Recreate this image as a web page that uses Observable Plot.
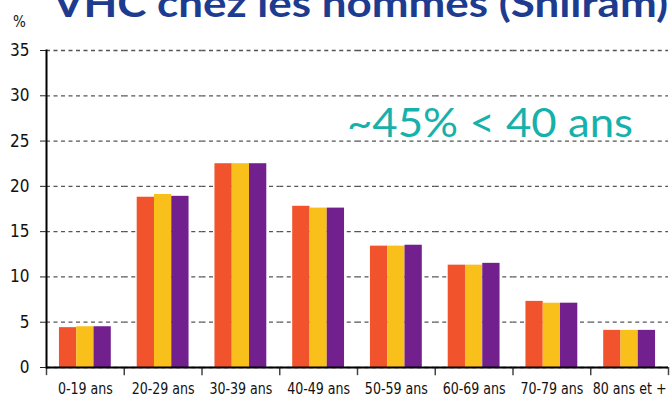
<!DOCTYPE html>
<html><head><meta charset="utf-8">
<script src="https://cdn.jsdelivr.net/npm/d3@7"></script>
<script src="https://cdn.jsdelivr.net/npm/@observablehq/plot@0.6"></script>
<style>
body{margin:0;background:#fff;}
#wrap{position:relative;width:671px;height:400px;overflow:hidden;background:#fff;}
#over{position:absolute;left:0;top:0;pointer-events:none;}
</style></head><body>
<div id="wrap"></div>
<script>
const categories = ["0-19 ans","20-29 ans","30-39 ans","40-49 ans","50-59 ans","60-69 ans","70-79 ans","80 ans et +"];
const seriesNames = ["Série 1","Série 2","Série 3"];
const serie1 = [4.4, 18.8, 22.5, 17.8, 13.4, 11.3, 7.3, 4.1];
const serie2 = [4.5, 19.1, 22.5, 17.6, 13.4, 11.3, 7.1, 4.1];
const serie3 = [4.5, 18.9, 22.5, 17.6, 13.5, 11.5, 7.1, 4.1];
const yTicks = [0, 5, 10, 15, 20, 25, 30, 35];
const colors = ["#f1542d", "#f9bf1a", "#71208e"];
const titleText = "VHC chez les hommes (Sniiram)";
const annotText = "~45% < 40 ans";
const unitText = "%";

const allSeries = [serie1, serie2, serie3];
const data = [];
categories.forEach((c, i) => allSeries.forEach((s, j) => data.push({cat: c, series: seriesNames[j], value: s[i]})));

const W = 671, H = 400, mL = 46, mR = 3;
const step = (W - mL - mR) / categories.length;
const padOuter = 0.75;
const barStep = step / (seriesNames.length + 2 * padOuter);
const edge = (0.5 + padOuter) * barStep;
const font = "'Liberation Sans Narrow','DejaVu Sans Condensed','Roboto',sans-serif";

const plot = Plot.plot({
  width: W, height: H,
  marginLeft: mL, marginRight: mR, marginTop: 50, marginBottom: 33,
  style: {fontFamily: font, fontSize: "17px", color: "#111", background: "#fff", overflow: "visible"},
  fx: {domain: categories, padding: 0, round: false, label: null},
  x: {domain: seriesNames, axis: null, paddingInner: 0, paddingOuter: padOuter, round: false},
  y: {domain: [0, 35]},
  color: {domain: seriesNames, range: colors},
  marks: [
    Plot.gridY(yTicks, {stroke: "#555", strokeOpacity: 1, strokeWidth: 1.3, strokeDasharray: "4,3.5"}),
    Plot.barY(data, {fx: "cat", x: "series", y: "value", fill: "series"}),
    Plot.ruleX(categories, {fx: d => d, x: () => seriesNames[0], y1: 0, y2: -0.9, dx: -edge, stroke: "#444", strokeWidth: 1.5}),
    Plot.ruleX(categories.slice(-1), {fx: d => d, x: () => seriesNames[seriesNames.length - 1], y1: 0, y2: -0.9, dx: edge, stroke: "#444", strokeWidth: 1.5}),
    Plot.ruleY([0], {stroke: "#000", strokeWidth: 2}),
    Plot.frame({anchor: "left", facetAnchor: "left", stroke: "#000", strokeWidth: 2}),
    Plot.axisY(yTicks, {tickSize: 6, tickPadding: 11, fontSize: 17, label: null, stroke: "#222"}),
    Plot.axisFx({anchor: "bottom", tickSize: 0, tickPadding: 15, label: null, fontSize: 16.5, className: "xlab"})
  ]
});
const wrap = document.getElementById("wrap");
wrap.appendChild(plot);

// narrow the category labels (condensed look of the original)
plot.querySelectorAll(".xlab text").forEach(t => {
  const len = t.getComputedTextLength();
  if (len > 0) {
    t.setAttribute("textLength", (len * 0.85).toFixed(1));
    t.setAttribute("lengthAdjust", "spacingAndGlyphs");
  }
});

const ns = "http://www.w3.org/2000/svg";
const over = document.createElementNS(ns, "svg");
over.setAttribute("id", "over");
over.setAttribute("width", W);
over.setAttribute("height", H);
function addText(str, attrs) {
  const t = document.createElementNS(ns, "text");
  for (const k in attrs) t.setAttribute(k, attrs[k]);
  t.textContent = str;
  over.appendChild(t);
}
addText(titleText, {x: 53, y: 17, "font-family": "Lato,'Open Sans',sans-serif", "font-weight": "bold", "font-size": 38, fill: "#1d3c8f", textLength: 615, lengthAdjust: "spacingAndGlyphs"});
addText(annotText, {x: 347, y: 137, "font-family": "Lato,'Open Sans',sans-serif", "font-size": 40, fill: "#17b1ab", textLength: 286, lengthAdjust: "spacingAndGlyphs"});
addText(unitText, {x: 13, y: 27, "font-family": font, "font-size": 15, fill: "#111"});
wrap.appendChild(over);
</script>
</body></html>
